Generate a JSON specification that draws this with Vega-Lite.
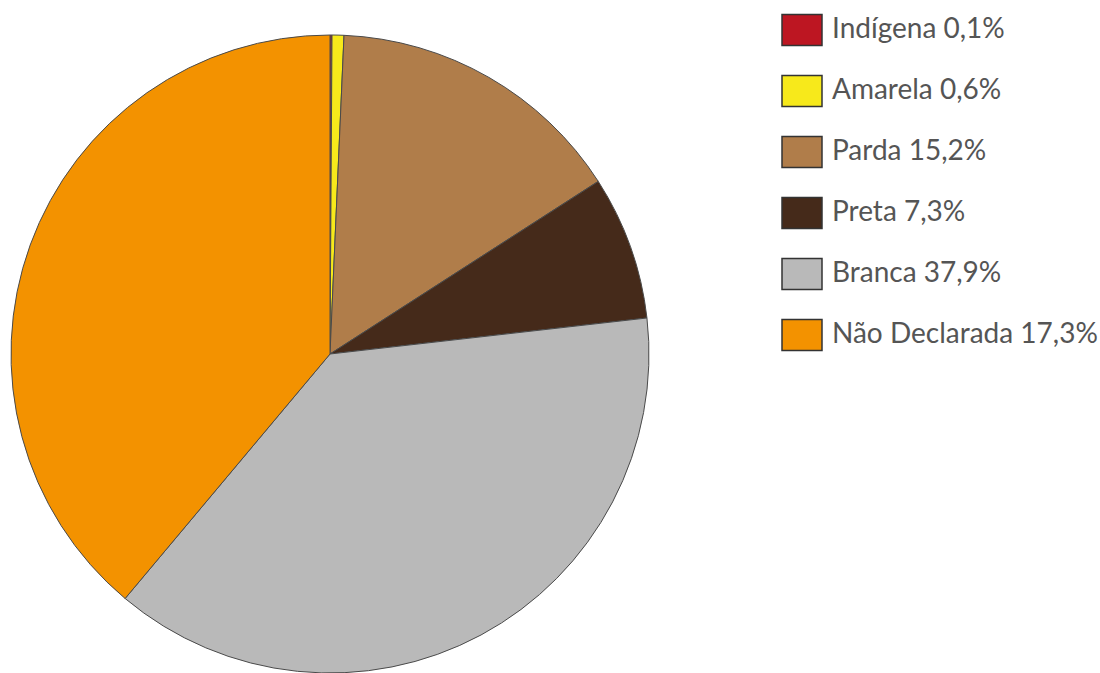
{
  "$schema": "https://vega.github.io/schema/vega-lite/v6.json",
  "autosize": "none",
  "width": 660,
  "height": 638,
  "padding": {"left": 0, "top": 35, "right": 440, "bottom": 0},
  "background": "white",
  "data": {
    "values": [
      {"grupo": "Indígena 0,1%", "valor": 0.1, "ord": 1},
      {"grupo": "Amarela 0,6%", "valor": 0.6, "ord": 2},
      {"grupo": "Parda 15,2%", "valor": 15.2, "ord": 3},
      {"grupo": "Preta 7,3%", "valor": 7.3, "ord": 4},
      {"grupo": "Branca 37,9%", "valor": 37.9, "ord": 5},
      {"grupo": "Não Declarada 17,3%", "valor": 38.9, "ord": 6}
    ]
  },
  "mark": {"type": "arc", "stroke": "#4a4a4a", "strokeWidth": 1},
  "encoding": {
    "theta": {"field": "valor", "type": "quantitative", "stack": true},
    "order": {"field": "ord", "type": "quantitative"},
    "color": {
      "field": "grupo",
      "type": "nominal",
      "sort": null,
      "scale": {
        "domain": ["Indígena 0,1%", "Amarela 0,6%", "Parda 15,2%", "Preta 7,3%", "Branca 37,9%", "Não Declarada 17,3%"],
        "range": ["#bd1622", "#f7e91b", "#b07d4a", "#452a1a", "#b9b9b9", "#f39200"]
      },
      "legend": {
        "title": null,
        "orient": "none",
        "legendX": 781,
        "legendY": -26,
        "padding": 0,
        "symbolType": "M-1,-0.78H1V0.78H-1Z",
        "symbolSize": 1600,
        "symbolStrokeColor": "#333333",
        "symbolStrokeWidth": 1.5,
        "symbolOpacity": 1,
        "rowPadding": 21,
        "labelOffset": 9,
        "labelFont": "Lato",
        "labelFontSize": 28,
        "labelColor": "#555555",
        "labelLimit": 400
      }
    }
  },
  "config": {"view": {"stroke": null}}
}
